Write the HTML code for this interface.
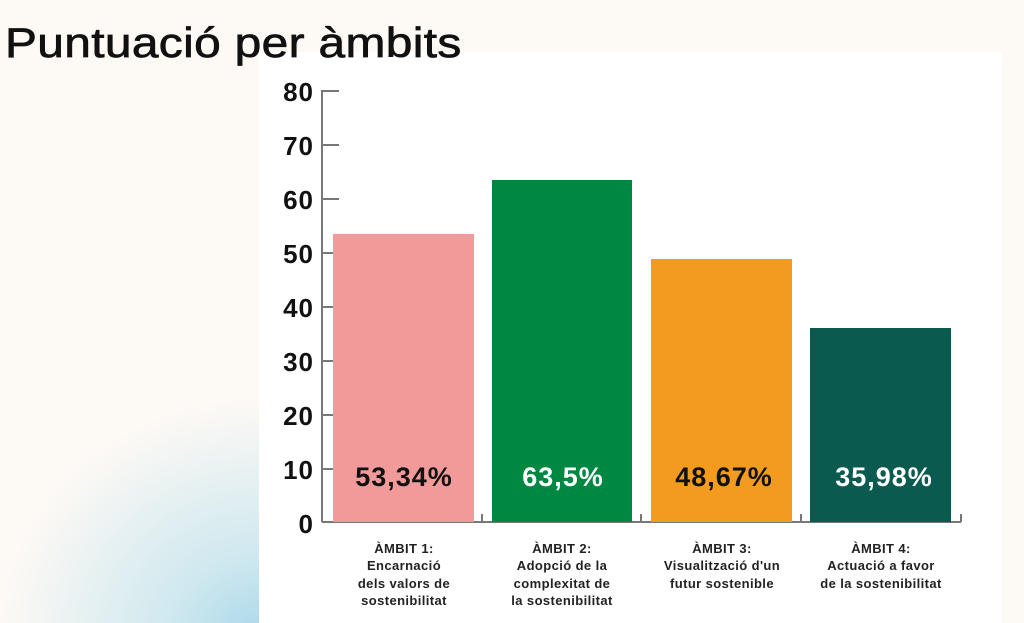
<!DOCTYPE html>
<html><head><meta charset="utf-8"><style>
html,body{margin:0;padding:0;width:1024px;height:623px;overflow:hidden;background:#fdf9f5;}
.bg{position:absolute;left:0;top:0;width:1024px;height:623px;background:radial-gradient(ellipse 260px 240px at 260px 640px,#a9d8ea 0%,#cfe8ef 35%,rgba(253,249,245,0) 100%),#fdf9f5;}
h1{position:absolute;left:5px;top:19px;margin:0;font:42px "Liberation Sans",sans-serif;color:#111;letter-spacing:0.3px;transform:scaleX(1.14);transform-origin:0 0;z-index:2;white-space:nowrap;-webkit-text-stroke:0.7px #111;}
svg{position:absolute;left:0;top:0;}
</style></head><body>
<div class="bg"></div>
<svg width="1024" height="623" font-family="Liberation Sans, sans-serif">
<rect x="259" y="52" width="743" height="571" fill="#fff"/>
<g stroke="#777" stroke-width="2" fill="none">
<line x1="322" y1="90" x2="322" y2="522"/>
<line x1="322" y1="522" x2="961" y2="522"/>
<line x1="322" y1="91" x2="339" y2="91"/>
<line x1="322" y1="145" x2="339" y2="145"/>
<line x1="322" y1="199" x2="339" y2="199"/>
<line x1="322" y1="253" x2="339" y2="253"/>
<line x1="322" y1="307" x2="339" y2="307"/>
<line x1="322" y1="361" x2="339" y2="361"/>
<line x1="322" y1="415" x2="339" y2="415"/>
<line x1="322" y1="469" x2="339" y2="469"/>
<line x1="482" y1="514" x2="482" y2="522"/>
<line x1="641" y1="514" x2="641" y2="522"/>
<line x1="801" y1="514" x2="801" y2="522"/>
<line x1="961" y1="514" x2="961" y2="522"/>
</g>
<g font-size="26" font-weight="bold" text-anchor="end" fill="#111" letter-spacing="1">
<text x="314" y="101">80</text><text x="314" y="155">70</text><text x="314" y="209">60</text>
<text x="314" y="263">50</text><text x="314" y="317">40</text><text x="314" y="371">30</text>
<text x="314" y="425">20</text><text x="314" y="479">10</text><text x="314" y="533">0</text>
</g>
<rect x="333" y="234" width="141" height="288" fill="#f29a9a"/>
<rect x="492" y="180" width="140" height="342" fill="#008742"/>
<rect x="651" y="259" width="141" height="263" fill="#f29b1f"/>
<rect x="810" y="328" width="141" height="194" fill="#0b5a50"/>
<g font-size="27" font-weight="bold" text-anchor="middle" letter-spacing="1">
<text x="404" y="486" fill="#111">53,34%</text>
<text x="563" y="486" fill="#fff">63,5%</text>
<text x="724" y="486" fill="#111">48,67%</text>
<text x="884" y="486" fill="#fff">35,98%</text>
</g>
<g font-size="13" font-weight="bold" text-anchor="middle" fill="#222" letter-spacing="0.4">
<text x="404" y="553">ÀMBIT 1:</text><text x="404" y="570">Encarnació</text><text x="404" y="588">dels valors de</text><text x="404" y="605">sostenibilitat</text>
<text x="562" y="553">ÀMBIT 2:</text><text x="562" y="570">Adopció de la</text><text x="562" y="588">complexitat de</text><text x="562" y="605">la sostenibilitat</text>
<text x="722" y="553">ÀMBIT 3:</text><text x="722" y="570">Visualització d'un</text><text x="722" y="588">futur sostenible</text>
<text x="881" y="553">ÀMBIT 4:</text><text x="881" y="570">Actuació a favor</text><text x="881" y="588">de la sostenibilitat</text>
</g>
</svg>
<h1>Puntuació per àmbits</h1>
</body></html>
